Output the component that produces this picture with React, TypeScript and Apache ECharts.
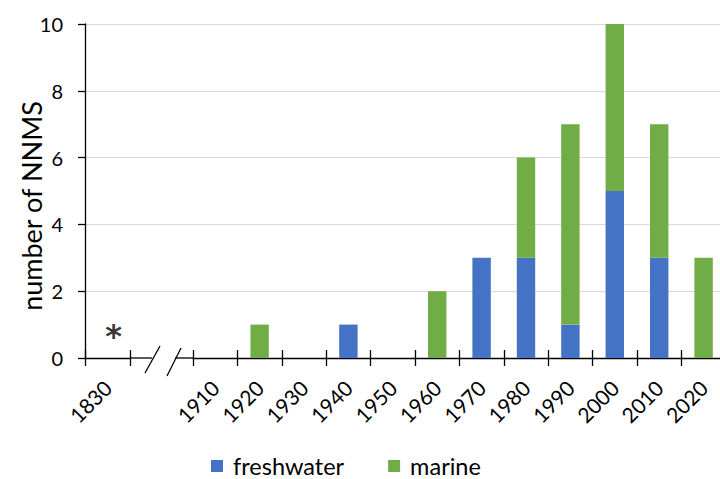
import React, { useEffect, useRef } from "react";
import * as echarts from "echarts";

const earlyCategories = ["1830"];
const categories = ["1910", "1920", "1930", "1940", "1950", "1960", "1970", "1980", "1990", "2000", "2010", "2020"];
const freshwater = [0, 0, 0, 1, 0, 0, 3, 3, 1, 5, 3, 0];
const marine = [0, 1, 0, 0, 0, 2, 0, 3, 6, 5, 4, 3];
const earlyFreshwater = [0];
const earlyMarine = [0];
const starValue = 0.8;
const yTicks = { min: 0, max: 10, interval: 2 };

const FONT = "Lato, 'Noto Sans', sans-serif";
const BLUE = "#4472C4";
const GREEN = "#70AD47";
const LEGEND_ICON = "path://M0,0L12,0L12,12L0,12ZM17,0L17,0.01";

export default function App() {
  const ref = useRef<HTMLDivElement>(null);
  useEffect(() => {
    if (!ref.current) return;
    const chart = echarts.init(ref.current, undefined, { renderer: "svg" });
    const top = 24;
    const height = 334;
    const catW = 44.4;
    const axisLine = { show: true, lineStyle: { color: "#000", width: 1.3 } };
    const labelStyle = { fontFamily: FONT, fontSize: 21, color: "#000" };
    const xCat = (grid: number, data: string[]) => ({
      type: "category",
      gridIndex: grid,
      data,
      position: "bottom",
      axisLine,
      axisTick: { show: true, length: 8, lineStyle: { color: "#000", width: 1.3 } },
      axisLabel: { ...labelStyle, rotate: 45, margin: 26, interval: 0 },
      splitLine: { show: false },
    });
    const xTickIn = (grid: number, data: string[]) => ({
      type: "category",
      gridIndex: grid,
      data,
      position: "bottom",
      axisLine: { show: false },
      axisTick: { show: true, inside: true, length: 8, lineStyle: { color: "#000", width: 1.3 } },
      axisLabel: { show: false },
      splitLine: { show: false },
    });
    const yHidden = (grid: number) => ({
      type: "value",
      gridIndex: grid,
      ...yTicks,
      show: false,
      splitLine: { show: false },
    });
    chart.setOption({
      animation: false,
      grid: [
        { left: 85, top, width: 645, height },
        { left: 85, top, width: 45, height },
        { left: 193, top, width: catW * categories.length, height },
      ],
      xAxis: [
        { type: "value", gridIndex: 0, min: 0, max: 1, show: false, splitLine: { show: false } },
        xCat(1, earlyCategories),
        xCat(2, categories),
        xTickIn(1, earlyCategories),
        xTickIn(2, categories),
      ],
      yAxis: [
        {
          type: "value",
          gridIndex: 0,
          ...yTicks,
          axisLine,
          axisTick: { show: true, length: 7, lineStyle: { color: "#000", width: 1.3 } },
          axisLabel: { ...labelStyle, fontSize: 20, margin: 22 },
          splitLine: { show: true, showMinLine: false, lineStyle: { color: "#d9d9d9", width: 1 } },
        },
        yHidden(1),
        yHidden(2),
      ],
      legend: {
        data: ["freshwater", "marine"],
        left: 206,
        top: 449,
        icon: LEGEND_ICON,
        itemWidth: 17,
        itemHeight: 12,
        itemGap: 44,
        textStyle: { fontFamily: FONT, fontSize: 23.5, color: "#000" },
      },
      graphic: [
        {
          type: "text",
          x: 31,
          y: 206,
          rotation: Math.PI / 2,
          style: {
            text: "number of NNMS",
            fontFamily: FONT,
            fontSize: 27,
            fill: "#000",
            align: "center",
            verticalAlign: "middle",
          },
        },
        { type: "line", shape: { x1: 130, y1: 358, x2: 152, y2: 358 }, style: { stroke: "#000", lineWidth: 1.3 } },
        { type: "line", shape: { x1: 175, y1: 358, x2: 193, y2: 358 }, style: { stroke: "#000", lineWidth: 1.3 } },
        { type: "line", shape: { x1: 145, y1: 373, x2: 160, y2: 346 }, style: { stroke: "#000", lineWidth: 1.3 } },
        { type: "line", shape: { x1: 167, y1: 376, x2: 181, y2: 348 }, style: { stroke: "#000", lineWidth: 1.3 } },
      ],
      series: [
        { name: "freshwater", type: "bar", stack: "a", xAxisIndex: 1, yAxisIndex: 1, data: earlyFreshwater, barWidth: 18, itemStyle: { color: BLUE } },
        { name: "marine", type: "bar", stack: "a", xAxisIndex: 1, yAxisIndex: 1, data: earlyMarine, barWidth: 18, itemStyle: { color: GREEN } },
        { name: "freshwater", type: "bar", stack: "b", xAxisIndex: 2, yAxisIndex: 2, data: freshwater, barWidth: 18.4, itemStyle: { color: BLUE } },
        { name: "marine", type: "bar", stack: "b", xAxisIndex: 2, yAxisIndex: 2, data: marine, barWidth: 18.4, itemStyle: { color: GREEN } },
        {
          type: "scatter",
          xAxisIndex: 1,
          yAxisIndex: 1,
          data: [[earlyCategories[0], starValue]],
          symbolSize: 1,
          itemStyle: { color: "transparent" },
          silent: true,
          label: {
            show: true,
            formatter: "*",
            position: "inside",
            offset: [6, 5],
            fontFamily: "'DejaVu Sans', sans-serif",
            fontSize: 32,
            fontWeight: "bold",
            color: "#000",
          },
        },
      ],
    });
    return () => chart.dispose();
  }, []);
  return (
    <div style={{ position: "absolute", left: 0, top: 0, width: 720, height: 479, overflow: "hidden" }}>
      <div ref={ref} style={{ width: 730, height: 479 }} />
    </div>
  );
}
